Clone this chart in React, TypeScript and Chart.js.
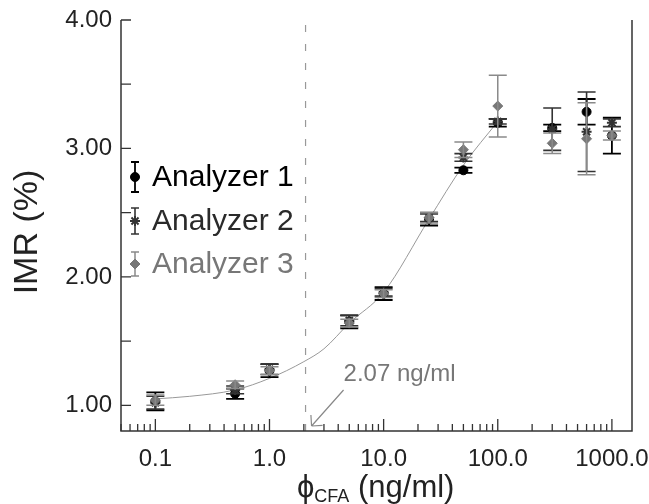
import React, { useEffect, useRef } from 'react';
import { Chart, registerables } from 'chart.js';
import { drawPoint } from 'chart.js/helpers';

Chart.register(...registerables);

// ---- data ----
const concentrations = [0.1, 0.5, 1, 5, 10, 25, 50, 100, 300, 600, 1000];
const analyzer1 = [1.03, 1.09, 1.27, 1.65, 1.87, 2.45, 2.83, 3.20, 3.16, 3.285, 3.10];
const analyzer1Err = [0.07, 0.04, 0.05, 0.05, 0.05, 0.05, 0.02, 0.03, 0.025, 0.10, 0.14];
const analyzer2 = [1.02, 1.12, 1.28, 1.66, 1.88, 2.46, 2.93, 3.21, 3.15, 3.13, 3.20];
const analyzer2Err = [0.05, 0.03, 0.04, 0.04, 0.03, 0.03, 0.03, 0.02, 0.165, 0.31, 0.03];
const analyzer3 = [1.04, 1.16, 1.27, 1.64, 1.87, 2.46, 2.99, 3.33, 3.04, 3.075, 3.10];
const analyzer3Err = [0.04, 0.03, 0.03, 0.03, 0.03, 0.04, 0.06, 0.24, 0.08, 0.28, 0.035];

const fitX = [0.1, 0.2, 0.5, 1, 2, 3, 5, 10, 25, 50, 100];
const fitY = [1.05, 1.07, 1.12, 1.21, 1.34, 1.44, 1.64, 1.88, 2.45, 2.87, 3.21];

const xMajorTicks = [0.1, 1, 10, 100, 1000];
const yMajorTicks = [1, 2, 3, 4];
const yMinorTicks = [1.5, 2.5, 3.5];
const xMin = 0.05;
const xMax = 1500;
const yMin = 0.8;
const yMax = 4;

const lodValue = 2.07;
const lodLabel = '2.07 ng/ml';
const seriesNames = ['Analyzer 1', 'Analyzer 2', 'Analyzer 3'];
const yTitle = 'IMR (%)';
const xTitleSymbol = '\u03D5';
const xTitleSub = 'CFA';
const xTitleRest = ' (ng/ml)';

const FONT = "'Liberation Sans', Arial, Helvetica, sans-serif";

const seriesStyle = [
  { color: '#000000', errColor: '#000000', textColor: '#000000', pointStyle: 'circle', radius: 4.5, borderWidth: 1, errWidth: 1.8 },
  { color: '#333333', errColor: '#333333', textColor: '#2a2a2a', pointStyle: 'star', radius: 5, borderWidth: 2, errWidth: 1.6 },
  { color: '#777777', errColor: '#8a8a8a', textColor: '#777777', pointStyle: 'rectRot', radius: 5, borderWidth: 1, errWidth: 1.5 },
];

const seriesValues = [analyzer1, analyzer2, analyzer3];
const seriesErrors = [analyzer1Err, analyzer2Err, analyzer3Err];

function minorLogTicks(): number[] {
  const out: number[] = [];
  for (const d of [0.01, 0.1, 1, 10, 100, 1000]) {
    for (let m = 2; m <= 9; m++) {
      const v = m * d;
      if (v >= xMin && v <= xMax) out.push(v);
    }
  }
  return out;
}

const overlayPlugin = {
  id: 'overlay',
  beforeDatasetsDraw(chart: any) {
    const { ctx, chartArea: a, scales } = chart;
    const px = scales.x.getPixelForValue(lodValue);
    ctx.save();
    ctx.strokeStyle = '#999999';
    ctx.lineWidth = 1.2;
    ctx.setLineDash([7, 12]);
    ctx.beginPath();
    ctx.moveTo(px, a.bottom);
    ctx.lineTo(px, a.top);
    ctx.stroke();
    ctx.restore();
  },
  afterDatasetDraw(chart: any, args: any) {
    const ds = chart.data.datasets[args.index];
    const si = ds.seriesIndex;
    if (si === undefined) return;
    const { ctx, scales } = chart;
    const st = seriesStyle[si];
    const vals = seriesValues[si];
    const errs = seriesErrors[si];
    ctx.save();
    ctx.strokeStyle = st.errColor;
    ctx.lineWidth = st.errWidth;
    const cap = 9;
    for (let i = 0; i < concentrations.length; i++) {
      const px = scales.x.getPixelForValue(concentrations[i]);
      const y1 = scales.y.getPixelForValue(vals[i] + errs[i]);
      const y2 = scales.y.getPixelForValue(vals[i] - errs[i]);
      ctx.beginPath();
      ctx.moveTo(px, y1);
      ctx.lineTo(px, y2);
      ctx.moveTo(px - cap, y1);
      ctx.lineTo(px + cap, y1);
      ctx.moveTo(px - cap, y2);
      ctx.lineTo(px + cap, y2);
      ctx.stroke();
    }
    ctx.restore();
  },
  afterDraw(chart: any) {
    const { ctx, chartArea: a, scales } = chart;
    const xs = scales.x;
    const ys = scales.y;
    ctx.save();
    // frame
    ctx.strokeStyle = '#333333';
    ctx.lineWidth = 1.5;
    ctx.beginPath();
    ctx.moveTo(a.left, a.top);
    ctx.lineTo(a.left, a.bottom);
    ctx.lineTo(a.right, a.bottom);
    ctx.lineTo(a.right, a.top);
    ctx.stroke();
    // inward ticks
    ctx.lineWidth = 1.3;
    ctx.beginPath();
    for (const v of [...yMajorTicks, ...yMinorTicks]) {
      const y = ys.getPixelForValue(v);
      ctx.moveTo(a.left, y);
      ctx.lineTo(a.left + 10, y);
    }
    for (const v of xMajorTicks) {
      const x = xs.getPixelForValue(v);
      ctx.moveTo(x, a.bottom);
      ctx.lineTo(x, a.bottom - 12);
    }
    for (const v of minorLogTicks()) {
      if (xMajorTicks.includes(v)) continue;
      const x = xs.getPixelForValue(v);
      ctx.moveTo(x, a.bottom);
      ctx.lineTo(x, a.bottom - 7);
    }
    ctx.stroke();

    // annotation arrow + label
    const lx = xs.getPixelForValue(lodValue);
    const tipX = lx + 6;
    const tipY = a.bottom - 5;
    const tailX = lx + 38;
    const tailY = a.bottom - 41;
    ctx.strokeStyle = '#888888';
    ctx.lineWidth = 1.2;
    ctx.beginPath();
    ctx.moveTo(tailX, tailY);
    ctx.lineTo(tipX, tipY);
    const ang = Math.atan2(tailY - tipY, tailX - tipX);
    const head = 11;
    for (const d of [-Math.PI / 4, Math.PI / 4]) {
      ctx.moveTo(tipX, tipY);
      ctx.lineTo(tipX + head * Math.cos(ang + d), tipY + head * Math.sin(ang + d));
    }
    ctx.stroke();
    ctx.fillStyle = '#777777';
    ctx.font = `24px ${FONT}`;
    ctx.textAlign = 'left';
    ctx.textBaseline = 'middle';
    ctx.fillText(lodLabel, tailX, a.bottom - 57);

    // legend
    const rows = [177, 221, 264];
    const halfBars = [15, 13, 12];
    for (let i = 0; i < 3; i++) {
      const st = seriesStyle[i];
      const cx = 135;
      const cy = rows[i];
      ctx.strokeStyle = st.errColor;
      ctx.lineWidth = st.errWidth;
      ctx.beginPath();
      ctx.moveTo(cx, cy - halfBars[i]);
      ctx.lineTo(cx, cy + halfBars[i]);
      ctx.moveTo(cx - 4, cy - halfBars[i]);
      ctx.lineTo(cx + 4, cy - halfBars[i]);
      ctx.moveTo(cx - 4, cy + halfBars[i]);
      ctx.lineTo(cx + 4, cy + halfBars[i]);
      ctx.stroke();
      ctx.fillStyle = st.color;
      ctx.strokeStyle = st.color;
      ctx.lineWidth = st.borderWidth;
      drawPoint(ctx, { pointStyle: st.pointStyle as any, radius: st.radius, rotation: 0, borderWidth: st.borderWidth }, cx, cy);
      ctx.fillStyle = st.textColor;
      ctx.font = `30px ${FONT}`;
      ctx.textAlign = 'left';
      ctx.textBaseline = 'middle';
      ctx.fillText(seriesNames[i], 152, cy + 1);
    }

    // y title
    ctx.save();
    ctx.translate(28, 232);
    ctx.rotate(-Math.PI / 2);
    ctx.fillStyle = '#222222';
    ctx.font = `34px ${FONT}`;
    ctx.textAlign = 'center';
    ctx.textBaseline = 'middle';
    ctx.fillText(yTitle, 0, 0);
    ctx.restore();

    // x title with subscript
    ctx.fillStyle = '#222222';
    ctx.textAlign = 'left';
    ctx.textBaseline = 'alphabetic';
    let x0 = 297;
    ctx.font = `31px ${FONT}`;
    ctx.fillText(xTitleSymbol, x0, 497);
    x0 += ctx.measureText(xTitleSymbol).width;
    ctx.font = `18px ${FONT}`;
    ctx.fillText(xTitleSub, x0, 502);
    x0 += ctx.measureText(xTitleSub).width;
    ctx.font = `31px ${FONT}`;
    ctx.fillText(xTitleRest, x0, 497);
    ctx.restore();
  },
};

export default function App() {
  const ref = useRef<HTMLCanvasElement | null>(null);
  useEffect(() => {
    if (!ref.current) return;
    const datasets: any[] = [
      {
        label: 'fit',
        data: fitX.map((x, i) => ({ x, y: fitY[i] })),
        showLine: true,
        pointRadius: 0,
        borderColor: '#999999',
        borderWidth: 1,
        cubicInterpolationMode: 'monotone',
        order: 4,
      },
    ];
    for (let s = 0; s < 3; s++) {
      const st = seriesStyle[s];
      datasets.push({
        label: seriesNames[s],
        seriesIndex: s,
        data: concentrations.map((x, i) => ({ x, y: seriesValues[s][i] })),
        pointStyle: st.pointStyle,
        pointRadius: st.radius,
        pointBackgroundColor: st.color,
        pointBorderColor: st.color,
        pointBorderWidth: st.borderWidth,
        showLine: false,
        order: 3 - s,
      });
    }
    const chart = new Chart(ref.current, {
      type: 'scatter',
      data: { datasets },
      options: {
        animation: false,
        responsive: false,
        devicePixelRatio: 1,
        layout: { padding: { top: 20, right: 17, left: 0, bottom: 0 } },
        plugins: { legend: { display: false }, tooltip: { enabled: false } },
        scales: {
          x: {
            type: 'logarithmic',
            min: xMin,
            max: xMax,
            afterBuildTicks: (s: any) => {
              s.ticks = xMajorTicks.map((v) => ({ value: v }));
            },
            afterFit: (s: any) => {
              s.height = 73;
              s.paddingLeft = 0;
              s.paddingRight = 0;
            },
            grid: { display: false, drawTicks: false },
            border: { display: false },
            ticks: {
              autoSkip: false,
              maxRotation: 0,
              padding: 14,
              color: '#222222',
              font: { family: FONT, size: 24 },
              callback: (v: any) => {
                const n = Number(v);
                return n >= 1 ? n.toFixed(1) : String(n);
              },
            },
          },
          y: {
            type: 'linear',
            min: yMin,
            max: yMax,
            afterBuildTicks: (s: any) => {
              s.ticks = yMajorTicks.map((v) => ({ value: v }));
            },
            afterFit: (s: any) => {
              s.width = 121;
              s.paddingTop = 0;
              s.paddingBottom = 0;
            },
            grid: { display: false, drawTicks: false },
            border: { display: false },
            ticks: {
              padding: 9,
              color: '#222222',
              font: { family: FONT, size: 24 },
              callback: (v: any) => Number(v).toFixed(2),
            },
          },
        },
      },
      plugins: [overlayPlugin],
    });
    return () => chart.destroy();
  }, []);
  return (
    <div style={{ position: 'fixed', left: 0, top: 0, width: 649, height: 504, background: '#fff' }}>
      <canvas ref={ref} width={649} height={504} style={{ display: 'block' }} />
    </div>
  );
}
